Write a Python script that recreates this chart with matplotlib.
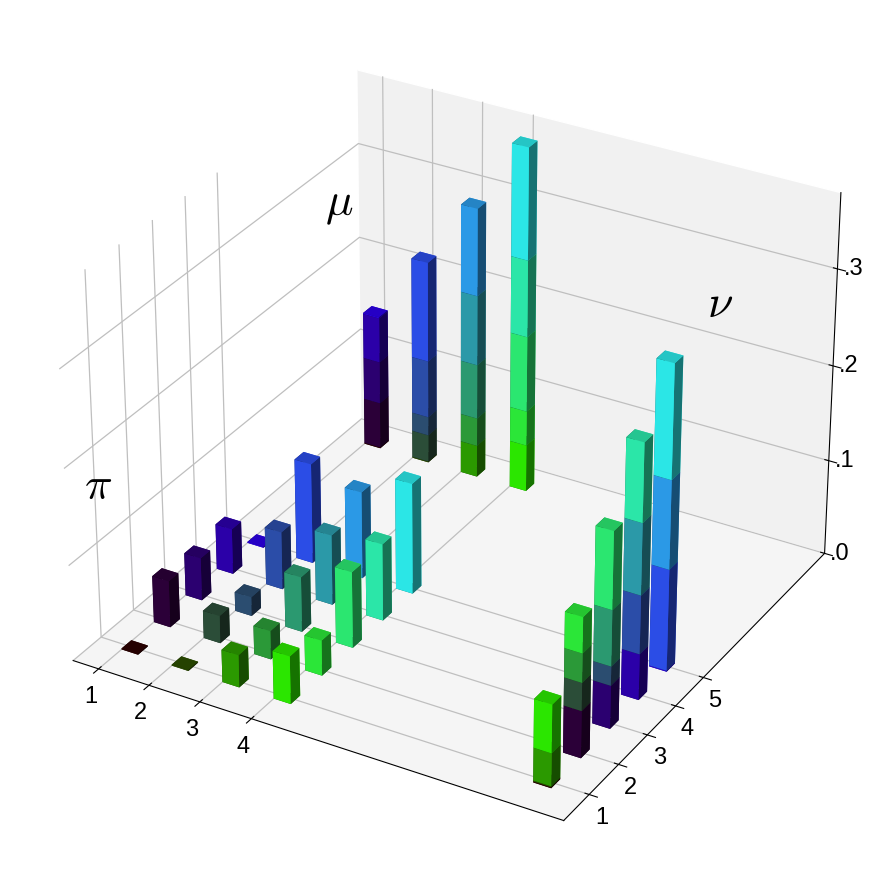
'''Joint distribution of two indices with stacked marginals along the far edges'''
import numpy as np
import matplotlib
matplotlib.use('Agg')
import matplotlib.pyplot as plt

plt.rcParams['font.family'] = ['Liberation Sans', 'DejaVu Sans']
plt.rcParams['mathtext.fontset'] = 'cm'

x_ticks = [1, 2, 3, 4]
y_ticks = [1, 2, 3, 4, 5]
z_ticks = [0, .1, .2, .3]
z_labels = ['.0', '.1', '.2', '.3']
x_marginal = 8.9
y_marginal = 9

# one row per x index, y index 1..5 across
joint_x1 = [.001, .049, .045, .048, .001]
joint_x2 = [.001, .029, .020, .061, .106]
joint_x3 = [.034, .030, .058, .074, .092]
joint_x4 = [.050, .037, .080, .081, .117]
joint = np.array([joint_x1, joint_x2, joint_x3, joint_x4])

red_level = .17
green_levels = [0, .30, .60, .90]
blue_levels = [0, .22, .44, .66, .90]

BAR_X = .33
BAR_Y = .3
TOP_SHADE = .86
SIDE_SHADE = .5


def cell_colour(i, j):
    '''Front face colour for x index i and y index j'''
    return np.array([red_level, green_levels[i], blue_levels[j]])


def draw_bar(ax, x, y, z, height, colour):
    '''One box, each face shaded by hand: bottom, top, -y, +y, -x, +x'''
    faces = [colour * SIDE_SHADE, colour * TOP_SHADE, colour, colour,
             colour * SIDE_SHADE, colour * SIDE_SHADE]
    ax.bar3d(x, y - BAR_Y / 2, z, BAR_X, BAR_Y, height,
             color=faces, shade=False, linewidth=0)


fig = plt.figure(figsize=(8.84, 8.84), dpi=100)
ax = fig.add_axes([.002, .003, 1, 1], projection='3d')
ax.view_init(elev=30, azim=-60)
ax.set_box_aspect((4, 4, 3), zoom=.988)

for i, x in enumerate(x_ticks):
    for j, y in enumerate(y_ticks):
        draw_bar(ax, x, y, 0, joint[i, j], cell_colour(i, j))

for j, y in enumerate(y_ticks):
    base = 0
    for i in range(len(x_ticks)):
        draw_bar(ax, x_marginal, y, base, joint[i, j], cell_colour(i, j))
        base += joint[i, j]

for i, x in enumerate(x_ticks):
    base = 0
    for j in range(len(y_ticks)):
        draw_bar(ax, x, y_marginal, base, joint[i, j], cell_colour(i, j))
        base += joint[i, j]

ax.set_xlim(.49, 9.84)
ax.set_ylim(.15, 9.6)
ax.set_zlim(0, .377)
ax.set_xticks(x_ticks)
ax.set_yticks(y_ticks)
ax.set_zticks(z_ticks)
ax.set_zticklabels(z_labels, va='center_baseline')
ax.tick_params(axis='x', labelsize=17, pad=1)
ax.tick_params(axis='y', labelsize=17, pad=0)
ax.tick_params(axis='z', labelsize=17, pad=-1)

ax.xaxis.set_pane_color((1, 1, 1, 0))
ax.yaxis.set_pane_color((.945, .945, .945, 1))
ax.zaxis.set_pane_color((.96, .96, .96, 1))
for axis in (ax.xaxis, ax.yaxis, ax.zaxis):
    axis.pane.set_edgecolor((1, 1, 1, 0))
    axis._axinfo['grid']['color'] = (.75, .75, .75, 1)
    axis._axinfo['grid']['linewidth'] = .9
    axis._axinfo['axisline']['color'] = (.2, .2, .2, 1)
    axis._axinfo['axisline']['linewidth'] = 1

fig.text(339 / 884, 1 - 205 / 884, r'$\mu$', fontsize=33, ha='center', va='center')
fig.text(720 / 884, 1 - 305 / 884, r'$\nu$', fontsize=33, ha='center', va='center')
fig.text(98 / 884, 1 - 487 / 884, r'$\pi$', fontsize=33, ha='center', va='center')

fig.savefig('out.png', dpi=100)
